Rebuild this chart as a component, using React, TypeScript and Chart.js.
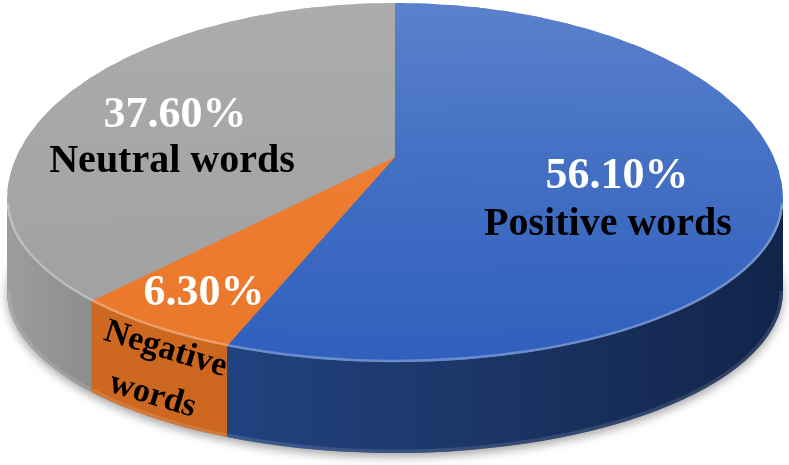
import React, { useEffect, useRef } from "react";
import { Chart, registerables } from "chart.js";
Chart.register(...registerables);

// ---- data ----
const categories = ["Positive words", "Negative words", "Neutral words"];
const percentages = [56.1, 6.3, 37.6];
const valueLabels = ["56.10%", "6.30%", "37.60%"];

// ---- layout / style ----
const W = 789;
const H = 465;
// outline of the top face (two half-ellipses), projected centre, depth of the body
const GEO = { cx: 395, cy: 200, rx: 388, ryTop: 197, ryBot: 162, depth: 91, apexY: 157 };
const WARP_K = 0.08; // perspective spread of the front angles
const WEDGES = 72;

const TOP_COLORS = [
  ["#5b81cc", "#4470c4", "#3060bd"],
  ["#f08433", "#ee7d31", "#ea782b"],
  ["#acacac", "#a6a6a6", "#a0a0a0"],
];
const SIDE_COLORS: [number, string][][] = [
  [[0, "#26498a"], [0.3, "#21427e"], [0.6, "#1b3667"], [1, "#12244a"]],
  [[0, "#d06a22"], [1, "#c25d18"]],
  [[0, "#9d9d9d"], [0.1, "#8e8e8e"], [1, "#868686"]],
];
const FONT = "'Liberation Serif', 'Times New Roman', serif";

function topGradient(c: any) {
  const chart = c.chart;
  const area = chart.chartArea;
  const cols = TOP_COLORS[c.dataIndex % TOP_COLORS.length];
  if (!area) return cols[1];
  const g = chart.ctx.createLinearGradient(0, area.top, 0, area.bottom);
  g.addColorStop(0, cols[0]);
  g.addColorStop(0.5, cols[1]);
  g.addColorStop(1, cols[2]);
  return g;
}

// perspective-like remap of an angle on the rim (Moebius map of the unit circle)
function warp(t: number) {
  const k = WARP_K;
  const c = Math.cos(t);
  const s = Math.sin(t);
  const nr = c, ni = s - k;
  const dr = 1 - k * s, di = k * c;
  const den2 = dr * dr + di * di;
  const qr = (nr * dr + ni * di) / den2;
  const qi = (ni * dr - nr * di) / den2;
  let d = Math.atan2(qi, qr) - t;
  d = Math.atan2(Math.sin(d), Math.cos(d));
  return t + d;
}
function outline(phi: number): [number, number] {
  const s = Math.sin(phi);
  return [GEO.cx + GEO.rx * Math.cos(phi), GEO.cy + (s < 0 ? GEO.ryTop : GEO.ryBot) * s];
}

const pie3d = {
  id: "pie3d",
  beforeDatasetsDraw(chart: any) {
    const ctx: CanvasRenderingContext2D = chart.ctx;
    const meta = chart.getDatasetMeta(0);
    const arcs = meta.data as any[];
    if (!arcs.length) return;
    const ax = arcs[0].x;
    const ay = arcs[0].y;
    const R = arcs[0].outerRadius;
    const { cx, cy, rx, ryTop, ryBot, depth, apexY } = GEO;
    const apx = cx, apy = apexY;

    // drop shadow under the body
    ctx.save();
    ctx.shadowColor = "rgba(0,0,0,0.35)";
    ctx.shadowBlur = 10;
    ctx.shadowOffsetY = 4;
    ctx.fillStyle = "#777";
    ctx.beginPath();
    ctx.ellipse(cx, cy + depth, rx, ryBot, 0, 0, Math.PI * 2);
    ctx.fill();
    ctx.restore();

    // side walls, from the library's arc angles
    arcs.forEach((arc, i) => {
      const ws = warp(arc.startAngle);
      const we = warp(arc.endAngle);
      for (const k of [-1, 0, 1]) {
        const s = Math.max(ws + 2 * Math.PI * k, 0);
        const e = Math.min(we + 2 * Math.PI * k, Math.PI);
        if (e <= s) continue;
        const g = ctx.createLinearGradient(cx - rx, 0, cx + rx, 0);
        SIDE_COLORS[i].forEach(([o, c]) => g.addColorStop(o, c));
        ctx.save();
        ctx.beginPath();
        ctx.ellipse(cx, cy, rx, ryBot, 0, s, e, false);
        ctx.ellipse(cx, cy + depth, rx, ryBot, 0, e, s, true);
        ctx.closePath();
        ctx.fillStyle = g;
        ctx.fill();
        ctx.clip();
        ctx.beginPath();
        ctx.ellipse(cx, cy + depth, rx, ryBot, 0, s, e, false);
        ctx.strokeStyle = "rgba(255,255,255,0.12)";
        ctx.lineWidth = 7;
        ctx.stroke();
        ctx.restore();
      }
    });

    // underlay near the projected centre (hides wedge seams)
    ctx.save();
    ctx.beginPath();
    ctx.arc(apx, apy, 40, 0, Math.PI * 2);
    ctx.clip();
    ctx.translate(apx, apy);
    ctx.scale(rx / R, ((ryTop + ryBot) / 2) / R);
    ctx.translate(-ax, -ay);
    meta.controller.draw();
    ctx.restore();

    // top face: drawn by the library, piecewise-affinely mapped into perspective
    const step = (2 * Math.PI) / WEDGES;
    const eps = 0.025;
    for (let i = 0; i < WEDGES; i++) {
      const a = -Math.PI / 2 + i * step;
      const b = a + step;
      const T1 = outline(warp(a));
      const T2 = outline(warp(b));
      const u1x = R * Math.cos(a), u1y = R * Math.sin(a);
      const u2x = R * Math.cos(b), u2y = R * Math.sin(b);
      const det = u1x * u2y - u2x * u1y;
      const v1x = T1[0] - apx, v1y = T1[1] - apy;
      const v2x = T2[0] - apx, v2y = T2[1] - apy;
      const i11 = u2y / det, i12 = -u2x / det, i21 = -u1y / det, i22 = u1x / det;
      const L11 = v1x * i11 + v2x * i21;
      const L12 = v1x * i12 + v2x * i22;
      const L21 = v1y * i11 + v2y * i21;
      const L22 = v1y * i12 + v2y * i22;
      const e = apx - (L11 * ax + L12 * ay);
      const f = apy - (L21 * ax + L22 * ay);
      const C1 = outline(warp(a - eps));
      const C2 = outline(warp(b + eps));
      ctx.save();
      ctx.beginPath();
      ctx.moveTo(apx, apy);
      ctx.lineTo(apx + 2 * (C1[0] - apx), apy + 2 * (C1[1] - apy));
      ctx.lineTo(apx + 2 * (C2[0] - apx), apy + 2 * (C2[1] - apy));
      ctx.closePath();
      ctx.clip();
      ctx.transform(L11, L21, L12, L22, e, f);
      meta.controller.draw();
      ctx.restore();
    }

    // rim highlight along the front edge
    ctx.save();
    ctx.beginPath();
    ctx.ellipse(cx, cy, rx - 1, ryBot - 1, 0, 0.02, Math.PI - 0.02);
    ctx.strokeStyle = "rgba(255,255,255,0.28)";
    ctx.lineWidth = 2.5;
    ctx.stroke();
    ctx.restore();
    return false;
  },
  afterDraw(chart: any) {
    const ctx: CanvasRenderingContext2D = chart.ctx;
    const neg = categories[1].split(" ");
    const items: [string, number, number, number, string, number][] = [
      [valueLabels[0], 617, 188, 44, "#ffffff", 0],
      [categories[0], 608, 235, 40, "#000000", 0],
      [valueLabels[2], 175, 127, 44, "#ffffff", 0],
      [categories[2], 172, 172, 40, "#000000", 0],
      [valueLabels[1], 204, 305, 44, "#ffffff", 0],
      [neg[0], 163, 358, 34, "#000000", 17],
      [neg[1], 150, 404, 34, "#000000", 17],
    ];
    ctx.save();
    ctx.textAlign = "center";
    ctx.textBaseline = "alphabetic";
    for (const [t, x, y, size, color, rot] of items) {
      ctx.save();
      ctx.translate(x, y);
      ctx.rotate((rot * Math.PI) / 180);
      ctx.font = `bold ${size}px ${FONT}`;
      ctx.fillStyle = color;
      ctx.fillText(t, 0, 0);
      ctx.restore();
    }
    ctx.restore();
  },
};

export default function App() {
  const ref = useRef<HTMLCanvasElement>(null);
  useEffect(() => {
    const chart = new Chart(ref.current as HTMLCanvasElement, {
      type: "pie",
      data: {
        labels: categories,
        datasets: [
          {
            data: percentages,
            backgroundColor: (c: any) => topGradient(c),
            borderWidth: 0,
          },
        ],
      },
      options: {
        responsive: false,
        animation: false,
        events: [],
        layout: { padding: 0 },
        plugins: { legend: { display: false }, tooltip: { enabled: false } },
      },
      plugins: [pie3d as any],
    });
    return () => chart.destroy();
  }, []);
  return (
    <div style={{ position: "fixed", left: 0, top: 0, width: W, height: H, background: "#fff" }}>
      <canvas ref={ref} width={W} height={H} style={{ width: W, height: H, display: "block" }} />
    </div>
  );
}
